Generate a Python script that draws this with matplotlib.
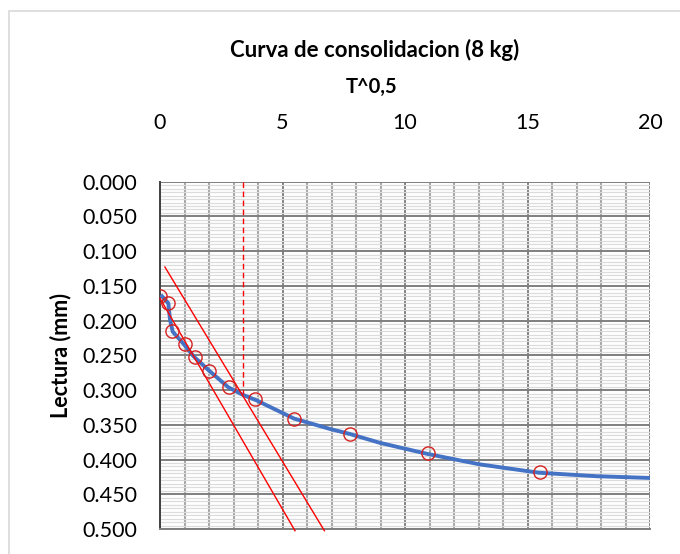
import matplotlib.pyplot as plt
from matplotlib.ticker import MultipleLocator, FormatStrFormatter
from matplotlib.patches import Rectangle

# readings (sqrt of time vs dial reading)
raiz_t = [0, 0.316, 0.5, 1.0, 1.414, 2.0, 2.828, 3.873, 5.477, 7.746, 10.954, 15.492]
lectura = [0.165, 0.175, 0.215, 0.234, 0.253, 0.272, 0.296, 0.313, 0.341, 0.363, 0.391, 0.418]

# smoothed curve
curva_x = [0.03, 0.34, 0.41, 0.52, 0.95, 1.36, 1.97, 2.79, 3.33, 3.95, 5.47, 6.94,
           7.73, 8.98, 10.93, 13.06, 15.47, 17.82, 20.0]
curva_y = [0.163, 0.175, 0.199, 0.216, 0.233, 0.251, 0.271, 0.296, 0.306, 0.315, 0.341, 0.356,
           0.363, 0.376, 0.392, 0.407, 0.419, 0.424, 0.4265]

# construction lines
recta1_x = [0.0, 5.51]
recta1_y = [0.168, 0.5025]
recta2_x = [0.2, 6.71]
recta2_y = [0.1228, 0.5025]
t90_x = [3.4, 3.4]
t90_y = [0.0, 0.305]

fontname = 'Lato'
plt.rcParams['font.family'] = [fontname, 'DejaVu Sans']

fig = plt.figure(figsize=(6.8, 5.54), dpi=100)
ax = fig.add_axes([160 / 680, 1 - 529 / 554, 490 / 680, (529 - 181.7) / 554])

# chart border (cropped at right/bottom)
fig.patches.append(Rectangle((9 / 680, -0.05), 1.2, 1 - 11 / 554 + 0.05,
                             transform=fig.transFigure, fill=False,
                             edgecolor='#d9d9d9', lw=1.2))

ax.set_xlim(0, 20)
ax.set_ylim(0.5, 0.0)

ax.xaxis.set_major_locator(MultipleLocator(5))
ax.xaxis.set_minor_locator(MultipleLocator(1))
ax.yaxis.set_major_locator(MultipleLocator(0.05))
ax.yaxis.set_minor_locator(MultipleLocator(0.005))
ax.yaxis.set_major_formatter(FormatStrFormatter('%.3f'))

ax.grid(which='major', axis='both', color='#7f7f7f', lw=1.4, zorder=1)
ax.grid(which='minor', axis='x', color='#a6a6a6', lw=1.5, zorder=1)
ax.grid(which='minor', axis='y', color='#dcdcdc', lw=0.9, zorder=0)
ax.set_axisbelow(True)

ax.xaxis.tick_top()
ax.tick_params(which='both', length=0)
ax.tick_params(axis='x', pad=35, labelsize=15.5)
ax.tick_params(axis='y', pad=16.5, labelsize=15.5)

for s in ['top', 'right']:
    ax.spines[s].set_visible(False)
ax.spines['bottom'].set_color('#7f7f7f')
ax.spines['bottom'].set_linewidth(1.4)
ax.spines['left'].set_color('#404040')
ax.spines['left'].set_linewidth(1.4)

ax.plot(curva_x, curva_y, color='#4472C4', lw=2.8, solid_capstyle='butt', zorder=3)
ax.plot(raiz_t, lectura, ls='none', marker='o', ms=9.5, mfc='none', mec='#d62020', mew=1.0, zorder=5)

ax.plot(recta1_x, recta1_y, color='red', lw=1.0, zorder=4, clip_on=False)
ax.plot(recta2_x, recta2_y, color='red', lw=1.0, zorder=4, clip_on=False)
ax.plot(t90_x, t90_y, color='red', lw=1.0, ls=(0, (4, 2.5)), zorder=4)

ax.set_ylabel('Lectura (mm)', fontsize=15.5, fontweight='bold', labelpad=8)

fig.text(375 / 680, 1 - 50 / 554, 'Curva de consolidacion (8 kg)', ha='center', va='center',
         fontsize=16, fontweight='bold')
fig.text(372 / 680, 1 - 87 / 554, 'T^0,5', ha='center', va='center',
         fontsize=14.5, fontweight='bold')

plt.savefig('out.png', dpi=100)
